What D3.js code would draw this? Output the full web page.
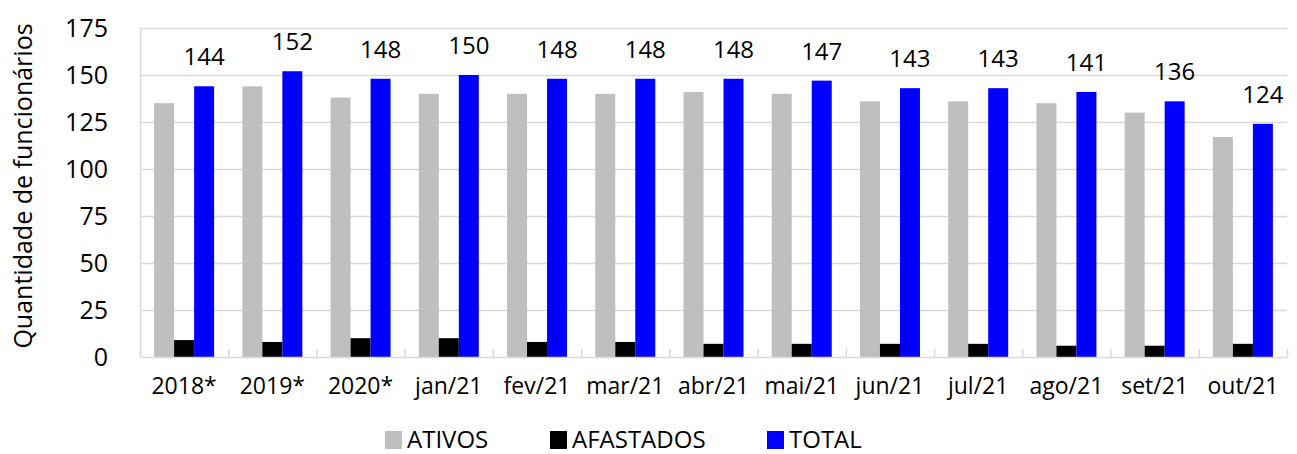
<!DOCTYPE html>
<html>
<head>
<meta charset="utf-8">
<script src="https://cdn.jsdelivr.net/npm/d3@7"></script>
<style>
  body { margin: 0; background: #fff; }
  svg text { font-family: "Open Sans", sans-serif; fill: #000; }
</style>
</head>
<body>
<svg width="1297" height="454"></svg>
<script>
const categories = ["2018*", "2019*", "2020*", "jan/21", "fev/21", "mar/21", "abr/21", "mai/21", "jun/21", "jul/21", "ago/21", "set/21", "out/21"];
const ativos = [135, 144, 138, 140, 140, 140, 141, 140, 136, 136, 135, 130, 117];
const afastados = [9, 8, 10, 10, 8, 8, 7, 7, 7, 7, 6, 6, 7];
const total = [144, 152, 148, 150, 148, 148, 148, 147, 143, 143, 141, 136, 124];
const seriesNames = ["ATIVOS", "AFASTADOS", "TOTAL"];
const seriesColors = ["#bfbfbf", "#000000", "#0000ff"];
const yTicks = [0, 25, 50, 75, 100, 125, 150, 175];

const svg = d3.select("svg");
const plotLeft = 140, plotRight = 1287, plotTop = 28, plotBottom = 357;

const x0 = d3.scaleBand().domain(categories).range([plotLeft, plotRight]).paddingInner(0.32).paddingOuter(0.16);
const x1 = d3.scaleBand().domain(seriesNames).range([0, x0.bandwidth()]);
const y = d3.scaleLinear().domain([0, 175]).range([plotBottom, plotTop]);

// gridlines
svg.append("g")
    .selectAll("line")
    .data(yTicks.slice(1))
    .enter()
    .append("line")
    .attr("x1", plotLeft).attr("x2", plotRight)
    .attr("y1", d => y(d) + 0.5).attr("y2", d => y(d) + 0.5)
    .attr("stroke", "#d9d9d9").attr("stroke-width", 1.5);

// left axis line
svg.append("line")
    .attr("x1", plotLeft + 0.5).attr("x2", plotLeft + 0.5)
    .attr("y1", plotTop).attr("y2", plotBottom)
    .attr("stroke", "#d9d9d9").attr("stroke-width", 1.5);

// y labels
const yAxis = d3.axisLeft(y).tickValues(yTicks).tickSize(0).tickPadding(32);
const yAxisG = svg.append("g").attr("transform", `translate(${plotLeft},0)`).call(yAxis);
yAxisG.select(".domain").remove();
yAxisG.selectAll("text")
    .attr("font-size", 25)
    .attr("font-family", "Open Sans")
    .attr("fill", "#000");

// bars
const seriesValues = [ativos, afastados, total];
const rows = categories.map((c, i) => ({ cat: c, vals: seriesNames.map((s, k) => ({ s, k, v: seriesValues[k][i] })) }));

const groups = svg.append("g")
    .selectAll("g")
    .data(rows)
    .enter()
    .append("g")
    .attr("transform", d => `translate(${x0(d.cat)},0)`);

groups.selectAll("rect")
    .data(d => d.vals)
    .enter()
    .append("rect")
    .attr("x", d => x1(d.s))
    .attr("width", x1.bandwidth())
    .attr("y", d => y(d.v))
    .attr("height", d => y(0) - y(d.v))
    .attr("fill", d => seriesColors[d.k]);

// total labels
groups.append("text")
    .attr("x", x1("TOTAL") + x1.bandwidth() / 2)
    .attr("y", (d, i) => y(total[i]) - 21)
    .attr("text-anchor", "middle")
    .attr("font-size", 24)
    .text((d, i) => total[i]);

// x axis
const xAxisG = svg.append("g").attr("transform", `translate(0,${plotBottom})`);
xAxisG.append("line")
    .attr("x1", plotLeft).attr("x2", plotRight)
    .attr("y1", 0.5).attr("y2", 0.5)
    .attr("stroke", "#d9d9d9").attr("stroke-width", 1.5);
const step = x0.step();
xAxisG.selectAll(".tick")
    .data(d3.range(categories.length + 1))
    .enter()
    .append("line")
    .attr("x1", d => plotLeft + d * step + 0.5).attr("x2", d => plotLeft + d * step + 0.5)
    .attr("y1", 0).attr("y2", -8)
    .attr("stroke", "#d9d9d9").attr("stroke-width", 1.5);
xAxisG.selectAll("text")
    .data(categories)
    .enter()
    .append("text")
    .attr("x", d => x0(d) + x0.bandwidth() / 2)
    .attr("y", 29)
    .attr("dy", "0.35em")
    .attr("text-anchor", "middle")
    .attr("font-size", 23)
    .text(d => d);

// y title
svg.append("text")
    .attr("transform", "translate(32,186) rotate(-90)")
    .attr("text-anchor", "middle")
    .attr("font-size", 25)
    .text("Quantidade de funcionários");

// legend
const legendX = [385, 550, 767];
const legend = svg.append("g")
    .selectAll("g")
    .data(seriesNames)
    .enter()
    .append("g")
    .attr("transform", (d, i) => `translate(${legendX[i]},431)`);
legend.append("rect")
    .attr("width", 17).attr("height", 18)
    .attr("fill", (d, i) => seriesColors[i]);
legend.append("text")
    .attr("x", 22).attr("y", 9).attr("dy", "0.32em")
    .attr("font-size", 24)
    .text(d => d);
</script>
</body>
</html>
